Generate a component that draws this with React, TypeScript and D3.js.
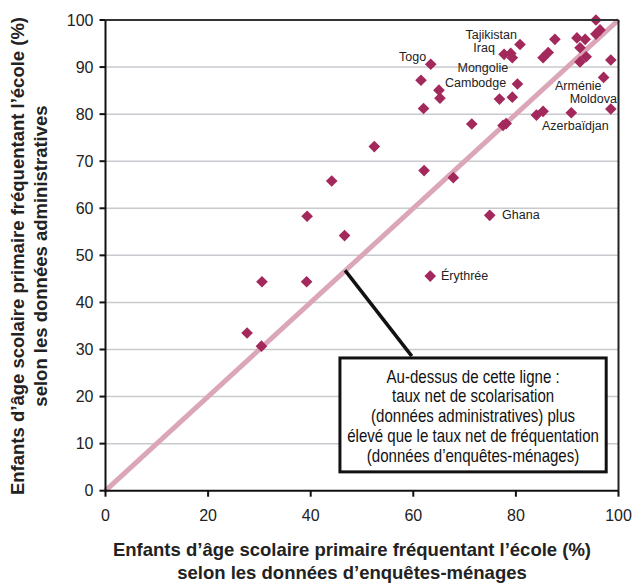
import React from "react";
import * as d3 from "d3";

const householdRates = [
  27.6, 30.4, 30.5, 39.2, 39.3, 46.6, 44.1, 52.4, 62.1, 67.8, 74.9, 63.3, 62.0, 71.4, 77.5, 78.1,
  61.5, 65.0, 65.2, 63.4, 80.8, 77.7, 79.0, 79.3, 80.3, 76.8, 79.3, 85.3, 86.3, 87.6, 91.9, 93.5,
  92.5, 92.5, 93.7, 95.6, 96.4, 95.6, 98.5, 97.1, 98.5, 90.8, 84.0, 85.3,
];
const adminRates = [
  33.5, 30.7, 44.4, 44.4, 58.3, 54.2, 65.8, 73.1, 68.0, 66.5, 58.5, 45.6, 81.2, 77.9, 77.6, 78.0,
  87.2, 85.1, 83.4, 90.6, 94.8, 92.7, 92.9, 92.0, 86.4, 83.2, 83.6, 92.0, 93.1, 95.9, 96.2, 95.9,
  94.1, 91.1, 92.2, 100, 97.9, 97.0, 91.5, 87.8, 81.1, 80.3, 79.8, 80.6,
];

const labelNames = ["Tajikistan", "Iraq", "Togo", "Mongolie", "Cambodge", "Arménie", "Moldova", "Azerbaïdjan", "Ghana", "Érythrée"];
const labelX = [80.2, 75.9, 62.5, 78.5, 78.1, 96.7, 99.7, 98.1, 77.3, 65.4];
const labelY = [96.8, 94.1, 92.2, 89.9, 86.6, 86.0, 83.2, 77.5, 58.6, 45.6];
const labelAnchor = ["end", "end", "end", "end", "end", "end", "end", "end", "start", "start"];

const xTicks = [0, 20, 40, 60, 80, 100];
const yTicks = [0, 10, 20, 30, 40, 50, 60, 70, 80, 90, 100];

const xTitle = ["Enfants d’âge scolaire primaire fréquentant l’école (%)", "selon les données d’enquêtes-ménages"];
const yTitle = ["Enfants d’âge scolaire primaire fréquentant l’école (%)", "selon les données administratives"];
const noteLines = [
  "Au-dessus de cette ligne :",
  "taux net de scolarisation",
  "(données administratives) plus",
  "élevé que le taux net de fréquentation",
  "(données d’enquêtes-ménages)",
];

export default function App() {
  const W = 633, H = 584;
  const x = d3.scaleLinear().domain([0, 100]).range([105.5, 618.5]);
  const y = d3.scaleLinear().domain([0, 100]).range([490.7, 20]);
  const font = "'Liberation Sans', Arial, Helvetica, sans-serif";
  const diamond = d3.symbol().type(d3.symbolSquare).size(68)();
  const boxX0 = x(45.7), boxX1 = x(97.6), boxY0 = y(28.2), boxY1 = y(4.0);
  const cx = (boxX0 + boxX1) / 2;
  const sx = 0.86;

  return (
    <svg width={W} height={H} style={{ position: "absolute", left: 0, top: 0, background: "#fff" }} fontFamily={font}>
      {yTicks.filter((t) => t > 0).map((t) => (
        <line key={"g" + t} x1={x(0)} x2={x(100)} y1={y(t)} y2={y(t)} stroke="#c9cacf" strokeWidth={1.5} />
      ))}
      <line x1={x(0)} y1={y(0)} x2={x(100)} y2={y(100)} stroke="#dba6b7" strokeWidth={5} />
      {householdRates.map((v, i) => (
        <path key={"p" + i} d={diamond} transform={`translate(${x(v)},${y(adminRates[i])}) rotate(45)`} fill="#a3295c" />
      ))}
      {labelNames.map((n, i) => (
        <text key={n} x={x(labelX[i])} y={y(labelY[i])} dy="0.35em" textAnchor={labelAnchor[i]} fontSize={12.5} fill="#222">
          {n}
        </text>
      ))}
      <line x1={x(46.7)} y1={y(46.8)} x2={x(59.7)} y2={y(28.6)} stroke="#111" strokeWidth={3.5} />
      <rect x={boxX0} y={boxY0} width={boxX1 - boxX0} height={boxY1 - boxY0} fill="#fff" stroke="#111" strokeWidth={3} />
      <g transform={`translate(${cx},0) scale(${sx},1)`}>
        {noteLines.map((l, i) => (
          <text key={i} x={0} y={boxY0 + 18.5 + i * 19.8} dy="0.35em" textAnchor="middle" fontSize={17.5} fill="#111">
            {l}
          </text>
        ))}
      </g>
      <line x1={x(0)} x2={x(100)} y1={y(100)} y2={y(100)} stroke="#333" strokeWidth={2} />
      <line x1={x(100)} x2={x(100)} y1={y(0)} y2={y(100)} stroke="#222" strokeWidth={2} />
      <line x1={x(0)} x2={x(0)} y1={y(0) + 1} y2={y(100)} stroke="#111" strokeWidth={2} />
      <line x1={x(0) - 1} x2={x(100)} y1={y(0)} y2={y(0)} stroke="#111" strokeWidth={2} />
      {yTicks.map((t) => (
        <g key={"y" + t}>
          <line x1={x(0) - 6} x2={x(0)} y1={y(t)} y2={y(t)} stroke="#111" strokeWidth={2} />
          <text x={x(0) - 12} y={y(t)} dy="0.36em" textAnchor="end" fontSize={16} fill="#222">{t}</text>
        </g>
      ))}
      {xTicks.map((t) => (
        <g key={"x" + t}>
          <line x1={x(t)} x2={x(t)} y1={y(0)} y2={y(0) + 6} stroke="#111" strokeWidth={2} />
          <text x={x(t)} y={y(0) + 30} textAnchor="middle" fontSize={16} fill="#222">{t}</text>
        </g>
      ))}
      {xTitle.map((l, i) => (
        <text key={"xt" + i} x={352} y={556 + i * 23} textAnchor="middle" fontSize={18.5} fontWeight="bold" fill="#222">{l}</text>
      ))}
      {yTitle.map((l, i) => (
        <text key={"yt" + i} transform={`translate(${24 + i * 23},256) rotate(-90)`} textAnchor="middle" fontSize={18.5} fontWeight="bold" fill="#222">{l}</text>
      ))}
    </svg>
  );
}
